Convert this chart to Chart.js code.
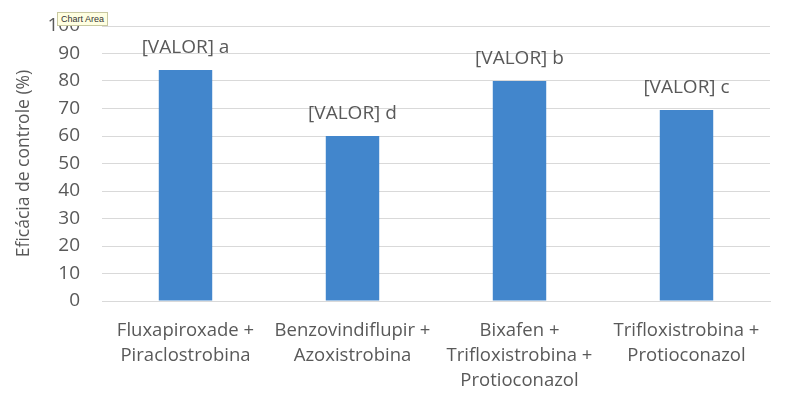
<!DOCTYPE html>
<html>
<head>
    <meta charset="utf-8">
    <title>Eficácia de controle</title>
    <script src="https://cdn.jsdelivr.net/npm/chart.js"></script>
    <style>
        body { margin: 0; background: #fff; }
        #wrap { position: relative; width: 790px; height: 397px; }
        #tip {
            position: absolute; left: 57px; top: 12px;
            font: 9px "Liberation Sans", sans-serif; color: #333;
            background: #ffffe1; border: 1px solid #c8c8a0;
            padding: 1px 3px; z-index: 2;
        }
    </style>
</head>
<body>
<div id="wrap">
    <div id="tip">Chart Area</div>
    <canvas id="chart" width="790" height="397"></canvas>
</div>
<script type="text/javascript">
    var categories = [
        ['Fluxapiroxade +', 'Piraclostrobina'],
        ['Benzovindiflupir +', 'Azoxistrobina'],
        ['Bixafen +', 'Trifloxistrobina +', 'Protioconazol'],
        ['Trifloxistrobina +', 'Protioconazol']
    ];
    var values = [84, 60, 80, 69.5];
    var valueLabels = ['[VALOR] a', '[VALOR] d', '[VALOR] b', '[VALOR] c'];
    var yTicks = [0, 10, 20, 30, 40, 50, 60, 70, 80, 90, 100];

    var fontFamily = '"Open Sans", "Liberation Sans", sans-serif';
    var textColor = '#595959';

    // draws the "[VALOR] x" text above each bar
    var barLabels = {
        id: 'barLabels',
        afterDatasetsDraw: function(chart) {
            var ctx = chart.ctx;
            var meta = chart.getDatasetMeta(0);
            ctx.save();
            ctx.font = '19px ' + fontFamily;
            ctx.fillStyle = textColor;
            ctx.textAlign = 'center';
            ctx.textBaseline = 'middle';
            meta.data.forEach(function(bar, i) {
                ctx.fillText(valueLabels[i], bar.x, bar.y - 22);
            });
            ctx.restore();
        }
    };

    var ctx = document.getElementById('chart').getContext('2d');
    var chart = new Chart(ctx, {
        type: 'bar',
        data: {
            labels: categories,
            datasets: [{
                data: values,
                backgroundColor: '#4286cc',
                borderWidth: 0,
                barPercentage: 0.32,
                categoryPercentage: 1
            }]
        },
        plugins: [barLabels],
        options: {
            responsive: false,
            animation: false,
            layout: { padding: { left: 11, right: 20, top: 26, bottom: 0 } },
            plugins: {
                legend: { display: false },
                tooltip: { enabled: false }
            },
            scales: {
                x: {
                    grid: { display: false, drawTicks: false },
                    border: { color: '#d9d9d9' },
                    afterFit: function(axis) { axis.height = 96; },
                    ticks: {
                        color: textColor,
                        font: { family: fontFamily, size: 18.5, lineHeight: 1.35 },
                        padding: 17,
                        maxRotation: 0
                    }
                },
                y: {
                    min: 0,
                    max: 100,
                    afterBuildTicks: function(axis) {
                        axis.ticks = yTicks.map(function(v) { return { value: v }; });
                    },
                    afterFit: function(axis) {
                        axis.width = 91;
                        axis.paddingTop = 0;
                        axis.paddingBottom = 0;
                    },
                    grid: { color: '#d9d9d9', drawTicks: false },
                    border: { display: false },
                    ticks: {
                        color: textColor,
                        font: { family: fontFamily, size: 19 },
                        padding: 22
                    },
                    title: {
                        display: true,
                        text: 'Eficácia de controle (%)',
                        color: textColor,
                        font: { family: fontFamily, size: 17.5 },
                        padding: { top: 3, bottom: 0 }
                    }
                }
            }
        }
    });
</script>
</body>
</html>
